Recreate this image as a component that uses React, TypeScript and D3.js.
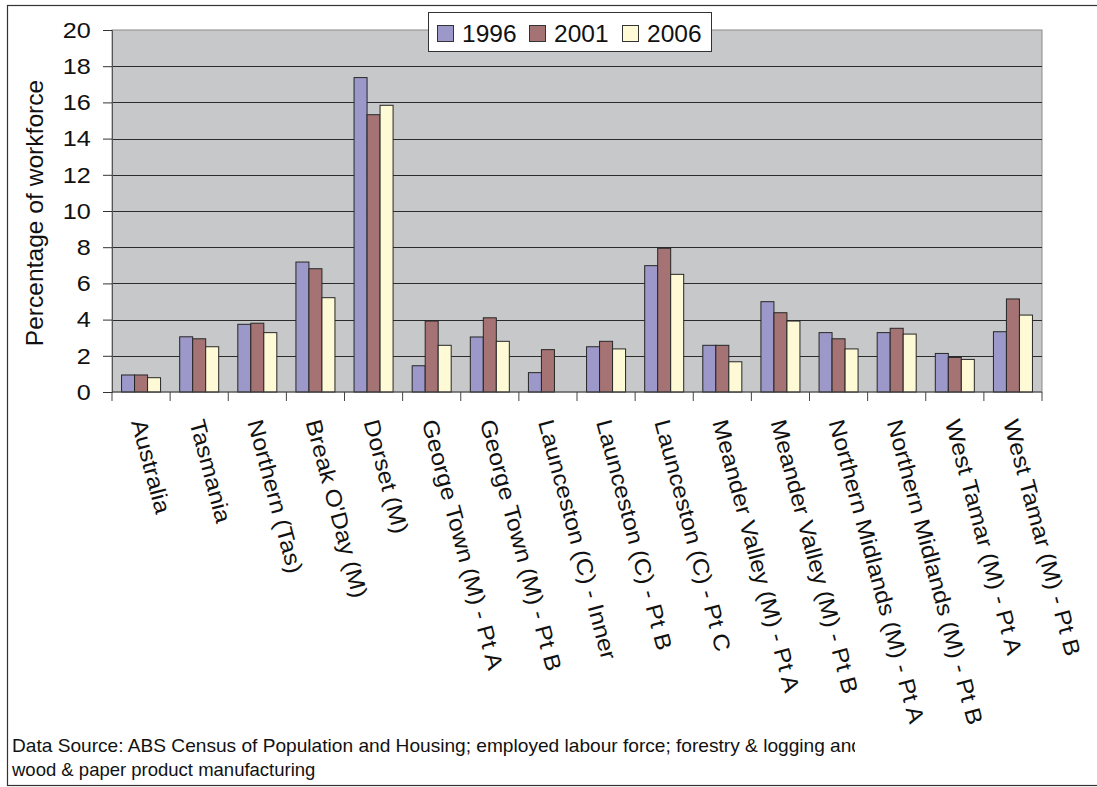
import React, { useEffect, useRef } from 'react';
import * as d3 from 'd3';

// Categories along the x axis
const categories: string[] = [
  "Australia",
  "Tasmania",
  "Northern (Tas)",
  "Break O'Day (M)",
  "Dorset (M)",
  "George Town (M) - Pt A",
  "George Town (M) - Pt B",
  "Launceston (C) - Inner",
  "Launceston (C) - Pt B",
  "Launceston (C) - Pt C",
  "Meander Valley (M) - Pt A",
  "Meander Valley (M) - Pt B",
  "Northern Midlands (M) - Pt A",
  "Northern Midlands (M) - Pt B",
  "West Tamar (M) - Pt A",
  "West Tamar (M) - Pt B"
];

// Percentage of workforce per census year
const values1996: (number | null)[] = [0.94, 3.05, 3.74, 7.18, 17.37, 1.45, 3.04, 1.07, 2.5, 6.98, 2.58, 4.99, 3.28, 3.28, 2.13, 3.33];
const values2001: (number | null)[] = [0.94, 2.94, 3.8, 6.81, 15.32, 3.92, 4.1, 2.34, 2.8, 7.94, 2.58, 4.38, 2.94, 3.52, 1.91, 5.14];
const values2006: (number | null)[] = [0.79, 2.5, 3.28, 5.21, 15.84, 2.58, 2.8, null, 2.38, 6.5, 1.67, 3.92, 2.38, 3.2, 1.8, 4.25];

const years: string[] = ["1996", "2001", "2006"];
const yearColors: string[] = ["#9c98c9", "#a67374", "#fffad6"];
const yTicks: number[] = [0, 2, 4, 6, 8, 10, 12, 14, 16, 18, 20];

const footerLines: string[] = [
  "Data Source: ABS Census of Population and Housing; employed labour force; forestry & logging and",
  "wood & paper product manufacturing"
];

interface BarDatum {
  cat: string;
  year: string;
  value: number;
  color: string;
}

export default function App() {
  const svgRef = useRef<SVGSVGElement | null>(null);

  useEffect(() => {
    if (!svgRef.current) return;
    document.body.style.margin = "0";

    const svg = d3.select(svgRef.current);
    svg.selectAll("*").remove();

    const width = 1097;
    const height = 787;
    const plot = { left: 112, right: 1042, top: 30, bottom: 392 };
    const font = "Arial, 'Liberation Sans', sans-serif";

    svg.attr("width", width)
      .attr("height", height)
      .style("display", "block")
      .style("background", "#fff")
      .style("font-family", font);

    // outer chart border
    svg.append("rect")
      .attr("x", 7.5).attr("y", 5.5)
      .attr("width", width + 10).attr("height", 780)
      .attr("fill", "#fff")
      .attr("stroke", "#333")
      .attr("stroke-width", 1.2);

    const x0 = d3.scaleBand<string>()
      .domain(categories)
      .range([plot.left, plot.right])
      .paddingInner(0)
      .paddingOuter(0);

    const x1 = d3.scaleBand<string>()
      .domain(years)
      .range([0, x0.bandwidth()])
      .paddingInner(0)
      .paddingOuter(0.735);

    const y = d3.scaleLinear()
      .domain([0, 20])
      .range([plot.bottom, plot.top]);

    // plot background
    svg.append("rect")
      .attr("x", plot.left).attr("y", plot.top)
      .attr("width", plot.right - plot.left)
      .attr("height", plot.bottom - plot.top)
      .attr("fill", "#c7c8ca")
      .attr("stroke", "#8a8a8a")
      .attr("stroke-width", 1);

    // gridlines
    svg.append("g")
      .selectAll("line")
      .data(yTicks.filter(t => t > 0 && t < 20))
      .enter()
      .append("line")
      .attr("x1", plot.left).attr("x2", plot.right)
      .attr("y1", d => Math.round(y(d)) + 0.5)
      .attr("y2", d => Math.round(y(d)) + 0.5)
      .attr("stroke", "#2b2b2b")
      .attr("stroke-width", 1);

    // bars
    const series = [values1996, values2001, values2006];
    const bars: BarDatum[] = [];
    categories.forEach((cat, i) => {
      years.forEach((year, j) => {
        const v = series[j][i];
        if (v !== null) bars.push({ cat, year, value: v, color: yearColors[j] });
      });
    });

    svg.append("g")
      .selectAll("rect")
      .data(bars)
      .enter()
      .append("rect")
      .attr("x", d => (x0(d.cat) ?? 0) + (x1(d.year) ?? 0))
      .attr("y", d => y(d.value))
      .attr("width", x1.bandwidth())
      .attr("height", d => y(0) - y(d.value))
      .attr("fill", d => d.color)
      .attr("stroke", "#262626")
      .attr("stroke-width", 1);

    // y axis
    const yAxis = d3.axisLeft(y)
      .tickValues(yTicks)
      .tickSize(9)
      .tickPadding(10)
      .tickFormat(d => `${d}`);

    const yg = svg.append("g")
      .attr("transform", `translate(${plot.left},0)`)
      .call(yAxis);
    yg.select(".domain").attr("stroke", "#555");
    yg.selectAll(".tick line").attr("stroke", "#333");
    yg.selectAll("text")
      .attr("font-size", "22.5px")
      .attr("font-family", font)
      .attr("transform", "scale(1.12,1)")
      .attr("fill", "#111");

    // x axis
    const xTicks = categories.map(c => x0(c) ?? 0).concat([plot.right]);
    const xg = svg.append("g");
    xg.append("line")
      .attr("x1", plot.left).attr("x2", plot.right)
      .attr("y1", plot.bottom).attr("y2", plot.bottom)
      .attr("stroke", "#444");
    xg.selectAll(".xtick")
      .data(xTicks)
      .enter()
      .append("line")
      .attr("class", "xtick")
      .attr("x1", d => d).attr("x2", d => d)
      .attr("y1", plot.bottom).attr("y2", plot.bottom + 9)
      .attr("stroke", "#444");

    xg.selectAll(".xlabel")
      .data(categories)
      .enter()
      .append("text")
      .attr("class", "xlabel")
      .attr("transform", d => `translate(${(x0(d) ?? 0) + x0.bandwidth() / 2 - 10},422) rotate(75) scale(1.1,1)`)
      .attr("text-anchor", "start")
      .attr("font-size", "22.5px")
      .attr("fill", "#111")
      .text(d => d);

    // y axis title
    svg.append("text")
      .attr("transform", `translate(43,213) rotate(-90) scale(1.07,1)`)
      .attr("text-anchor", "middle")
      .attr("font-size", "23px")
      .attr("fill", "#111")
      .text("Percentage of workforce");

    // legend
    const legend = svg.append("g");
    legend.append("rect")
      .attr("x", 428.5).attr("y", 12.5)
      .attr("width", 283).attr("height", 39)
      .attr("fill", "#fff")
      .attr("stroke", "#333")
      .attr("stroke-width", 1);

    const legendX = [437, 529, 622];
    years.forEach((year, i) => {
      legend.append("rect")
        .attr("x", legendX[i] + 0.5).attr("y", 25.5)
        .attr("width", 16).attr("height", 16)
        .attr("fill", yearColors[i])
        .attr("stroke", "#333");
      legend.append("text")
        .attr("x", legendX[i] + 25)
        .attr("y", 41.5)
        .attr("font-size", "24.5px")
        .attr("fill", "#111")
        .text(year);
    });

    // footer, first line clipped like the original
    svg.append("clipPath")
      .attr("id", "footer-clip")
      .append("rect")
      .attr("x", 0).attr("y", 700)
      .attr("width", 855).attr("height", 80);

    svg.append("g")
      .attr("clip-path", "url(#footer-clip)")
      .selectAll("text")
      .data(footerLines)
      .enter()
      .append("text")
      .attr("x", 12)
      .attr("y", (d, i) => 752 + i * 24)
      .attr("font-size", "18.5px")
      .attr("fill", "#111")
      .attr("textLength", (d, i) => (i === 0 ? 850 : null))
      .attr("lengthAdjust", "spacingAndGlyphs")
      .text(d => d);
  }, []);

  return <svg ref={svgRef}></svg>;
}
